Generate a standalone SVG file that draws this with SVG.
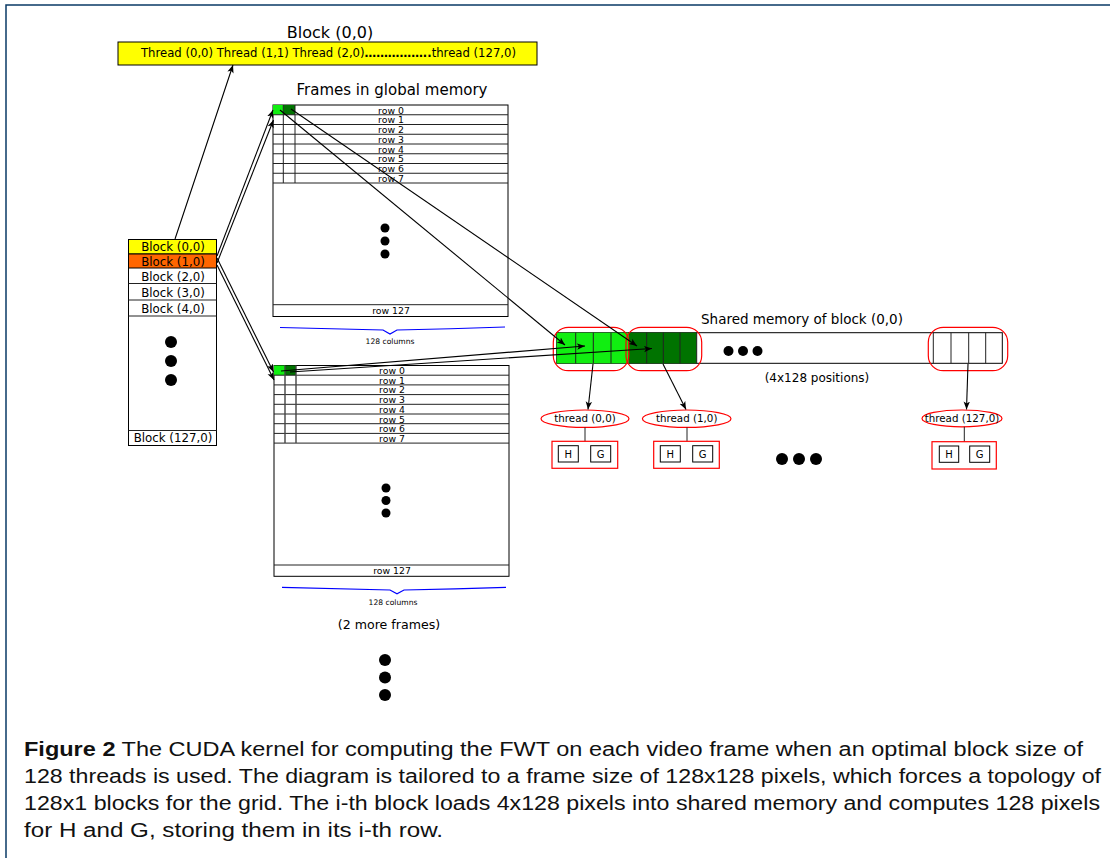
<svg xmlns="http://www.w3.org/2000/svg" width="1110" height="858" viewBox="0 0 1110 858">
<defs>
<marker id="ah" viewBox="0 0 10 10" refX="10" refY="5" markerWidth="8" markerHeight="8" markerUnits="userSpaceOnUse" orient="auto">
<path d="M0,1 L10,5 L0,9 L2.5,5 Z" fill="#000"/>
</marker>
</defs>
<style>
text{font-family:"DejaVu Sans","Liberation Sans",sans-serif;fill:#000}
.bx{fill:#fff;stroke:#000;stroke-width:1}
.ln{stroke:#222;stroke-width:1;fill:none}
.rw{font-size:9.3px;text-anchor:middle}
.bl{font-size:11.8px;text-anchor:middle}
.red{fill:none;stroke:#f00;stroke-width:1.2}
.th{font-size:10.3px;text-anchor:middle}
.hg{font-size:10px;text-anchor:middle}
.arr{stroke:#000;stroke-width:1.1;fill:none;marker-end:url(#ah)}
.brace{stroke:#00f;stroke-width:1.2;fill:none}
.cap{font-family:"Liberation Sans",Arial,sans-serif;font-size:20px;fill:#111}
.lg{fill:#11ee11}
.dg{fill:#007300}
</style>
<rect width="1110" height="858" fill="#fff"/>
<polyline points="6,858 6,5 1110,5" fill="none" stroke="#0a3a66" stroke-width="1.5"/>

<g id="block00-bar">
<text x="330" y="37.5" font-size="16" text-anchor="middle">Block (0,0)</text>
<rect x="118" y="42" width="419" height="23" fill="#ffff00" stroke="#000"/>
<text x="141" y="57" font-size="12" textLength="375" lengthAdjust="spacingAndGlyphs">Thread (0,0) Thread (1,1) Thread (2,0)<tspan font-weight="bold">……………..</tspan>thread (127,0)</text>
</g>

<g id="grid">
<rect x="128.5" y="239.5" width="88" height="206" class="bx"/>
<rect x="128.5" y="239.5" width="88" height="14.5" fill="#ffff00" stroke="#000"/>
<rect x="128.5" y="254" width="88" height="14" fill="#ff6600" stroke="#000"/>
<line x1="128.5" y1="283.5" x2="216.5" y2="283.5" class="ln"/>
<line x1="128.5" y1="300" x2="216.5" y2="300" class="ln"/>
<line x1="128.5" y1="316" x2="216.5" y2="316" class="ln"/>
<line x1="128.5" y1="430.5" x2="216.5" y2="430.5" class="ln"/>
<text x="173" y="251" class="bl">Block (0,0)</text>
<text x="173" y="265.5" class="bl">Block (1,0)</text>
<text x="173" y="280.5" class="bl">Block (2,0)</text>
<text x="173" y="296.5" class="bl">Block (3,0)</text>
<text x="173" y="312.5" class="bl">Block (4,0)</text>
<text x="173" y="442" class="bl">Block (127,0)</text>
<circle cx="171" cy="342" r="6"/>
<circle cx="171" cy="361" r="6"/>
<circle cx="171" cy="380" r="6"/>
</g>

<g id="frame1">
<text x="392" y="95" font-size="15" text-anchor="middle">Frames in global memory</text>
<rect x="273" y="105" width="235" height="211.5" class="bx"/>
<rect x="273" y="105" width="10.3" height="9.75" class="lg"/>
<rect x="283.3" y="105" width="11.7" height="9.75" class="dg"/>
<g class="ln">
<line x1="273" y1="114.75" x2="508" y2="114.75"/>
<line x1="273" y1="124.5" x2="508" y2="124.5"/>
<line x1="273" y1="134.25" x2="508" y2="134.25"/>
<line x1="273" y1="144" x2="508" y2="144"/>
<line x1="273" y1="153.75" x2="508" y2="153.75"/>
<line x1="273" y1="163.5" x2="508" y2="163.5"/>
<line x1="273" y1="173.25" x2="508" y2="173.25"/>
<line x1="273" y1="183" x2="508" y2="183"/>
<line x1="283.3" y1="105" x2="283.3" y2="183"/>
<line x1="295" y1="105" x2="295" y2="183"/>
<line x1="273" y1="304.7" x2="508" y2="304.7"/>
</g>
<text x="391" y="113.5" class="rw">row 0</text>
<text x="391" y="123.2" class="rw">row 1</text>
<text x="391" y="133" class="rw">row 2</text>
<text x="391" y="142.7" class="rw">row 3</text>
<text x="391" y="152.5" class="rw">row 4</text>
<text x="391" y="162.2" class="rw">row 5</text>
<text x="391" y="172" class="rw">row 6</text>
<text x="391" y="181.7" class="rw">row 7</text>
<text x="391" y="313.5" class="rw">row 127</text>
<circle cx="385" cy="228" r="4.5"/>
<circle cx="385" cy="241" r="4.5"/>
<circle cx="385" cy="254" r="4.5"/>
<path d="M280,327.5 Q340,329 383,330 L390,334 L397,330 Q450,329 505,327" class="brace"/>
<text x="390" y="344" font-size="7.6" text-anchor="middle">128 columns</text>
</g>

<g id="frame2">
<rect x="274" y="365.5" width="235" height="210.8" class="bx"/>
<rect x="274" y="365.5" width="11" height="9.7" class="lg"/>
<rect x="285" y="365.5" width="11" height="9.7" class="dg"/>
<g class="ln">
<line x1="274" y1="375.2" x2="509" y2="375.2"/>
<line x1="274" y1="384.9" x2="509" y2="384.9"/>
<line x1="274" y1="394.6" x2="509" y2="394.6"/>
<line x1="274" y1="404.3" x2="509" y2="404.3"/>
<line x1="274" y1="414" x2="509" y2="414"/>
<line x1="274" y1="423.7" x2="509" y2="423.7"/>
<line x1="274" y1="433.4" x2="509" y2="433.4"/>
<line x1="274" y1="443.1" x2="509" y2="443.1"/>
<line x1="285" y1="365.5" x2="285" y2="443.1" stroke="#444" stroke-width="1.4"/>
<line x1="296" y1="365.5" x2="296" y2="443.1" stroke="#444" stroke-width="1.4"/>
<line x1="274" y1="565" x2="509" y2="565"/>
</g>
<text x="392" y="374" class="rw">row 0</text>
<text x="392" y="383.7" class="rw">row 1</text>
<text x="392" y="393.4" class="rw">row 2</text>
<text x="392" y="403.1" class="rw">row 3</text>
<text x="392" y="412.8" class="rw">row 4</text>
<text x="392" y="422.5" class="rw">row 5</text>
<text x="392" y="432.2" class="rw">row 6</text>
<text x="392" y="441.9" class="rw">row 7</text>
<text x="392" y="574" class="rw">row 127</text>
<circle cx="386" cy="488" r="4.5"/>
<circle cx="386" cy="500.5" r="4.5"/>
<circle cx="386" cy="513" r="4.5"/>
<path d="M282,587.3 Q345,589 390,590 L397,593.7 L404,590 Q455,589 506,587.3" class="brace"/>
<text x="393" y="604.5" font-size="7.6" text-anchor="middle">128 columns</text>
<text x="389" y="628.5" font-size="12.6" text-anchor="middle">(2 more frames)</text>
<circle cx="385" cy="660" r="6"/>
<circle cx="385" cy="677.5" r="6"/>
<circle cx="385" cy="695" r="6"/>
</g>

<g id="shared">
<text x="701" y="323.5" font-size="13.5">Shared memory of block (0,0)</text>
<rect x="556.7" y="332.7" width="445.6" height="30.6" class="bx"/>
<rect x="556.7" y="332.7" width="71.6" height="30.6" class="lg"/>
<rect x="628.3" y="332.7" width="68.4" height="30.6" class="dg"/>
<g class="ln">
<line x1="575.7" y1="332.7" x2="575.7" y2="363.3"/>
<line x1="593.3" y1="332.7" x2="593.3" y2="363.3"/>
<line x1="611" y1="332.7" x2="611" y2="363.3"/>
<line x1="646.7" y1="332.7" x2="646.7" y2="363.3"/>
<line x1="663.3" y1="332.7" x2="663.3" y2="363.3"/>
<line x1="680" y1="332.7" x2="680" y2="363.3"/>
<line x1="696.7" y1="332.7" x2="696.7" y2="363.3"/>
<line x1="933.3" y1="332.7" x2="933.3" y2="363.3"/>
<line x1="951" y1="332.7" x2="951" y2="363.3"/>
<line x1="968.7" y1="332.7" x2="968.7" y2="363.3"/>
<line x1="985.7" y1="332.7" x2="985.7" y2="363.3"/>
</g>
<rect x="553.3" y="327.3" width="75.5" height="43.4" rx="15" class="red"/>
<rect x="626" y="327.3" width="75.7" height="43.4" rx="15" class="red"/>
<rect x="928.3" y="327.3" width="79.4" height="43.4" rx="15" class="red"/>
<circle cx="728.5" cy="351" r="5"/>
<circle cx="743" cy="351" r="5"/>
<circle cx="757.5" cy="351" r="5"/>
<text x="817" y="381.5" font-size="12" text-anchor="middle">(4x128 positions)</text>
</g>

<g id="thread0">
<ellipse cx="585" cy="418.7" rx="44" ry="8.7" class="red"/>
<text x="585" y="422.3" class="th">thread (0,0)</text>
<line x1="585" y1="427.4" x2="585" y2="441.3" class="ln"/>
<rect x="552" y="441.3" width="65.7" height="27" class="red"/>
<rect x="558.3" y="445.7" width="20" height="16.3" class="bx"/>
<rect x="590.7" y="445.7" width="20" height="16.3" class="bx"/>
<text x="568.3" y="457.5" class="hg">H</text>
<text x="600.7" y="457.5" class="hg">G</text>
</g>

<g id="thread1">
<ellipse cx="686.7" cy="418.7" rx="44.3" ry="8.7" class="red"/>
<text x="686.7" y="422.3" class="th">thread (1,0)</text>
<line x1="687" y1="427.4" x2="687" y2="441.3" class="ln"/>
<rect x="653.7" y="441.3" width="65.6" height="27" class="red"/>
<rect x="660.3" y="445.7" width="20" height="16.3" class="bx"/>
<rect x="692.7" y="445.7" width="20" height="16.3" class="bx"/>
<text x="670.3" y="457.5" class="hg">H</text>
<text x="702.7" y="457.5" class="hg">G</text>
</g>

<g id="threadsdots">
<circle cx="782" cy="459" r="6"/>
<circle cx="799" cy="459" r="6"/>
<circle cx="816" cy="459" r="6"/>
</g>

<g id="thread127">
<ellipse cx="962" cy="418.4" rx="40" ry="8.4" class="red"/>
<text x="962" y="422" class="th" font-size="9.6">thread (127,0)</text>
<line x1="964.3" y1="426.8" x2="964.3" y2="441.7" class="ln"/>
<rect x="932" y="441.7" width="64.3" height="27.3" class="red"/>
<rect x="939.3" y="446" width="19.4" height="16.3" class="bx"/>
<rect x="969.7" y="446" width="20" height="16.3" class="bx"/>
<text x="949" y="457.8" class="hg">H</text>
<text x="979.7" y="457.8" class="hg">G</text>
</g>

<g id="connectors">
<line x1="175" y1="239" x2="233" y2="65" class="arr"/>
<line x1="217" y1="256" x2="273" y2="110" class="arr"/>
<line x1="217" y1="263" x2="273.5" y2="120" class="arr"/>
<line x1="217" y1="258" x2="273.5" y2="372" class="arr"/>
<line x1="217" y1="265" x2="274" y2="380" class="arr"/>
<line x1="280" y1="110" x2="565" y2="345" class="arr"/>
<line x1="291" y1="109" x2="637" y2="346" class="arr"/>
<line x1="281" y1="371" x2="585" y2="346" class="arr"/>
<line x1="290" y1="372" x2="652" y2="348.5" class="arr"/>
<line x1="593" y1="364" x2="588" y2="409.5" class="arr"/>
<line x1="663" y1="364" x2="686" y2="409.5" class="arr"/>
<line x1="968" y1="364" x2="966.5" y2="409.5" class="arr"/>
</g>

<g id="caption">
<text x="24" y="756" class="cap" textLength="1059" lengthAdjust="spacingAndGlyphs"><tspan font-weight="bold">Figure 2</tspan> The CUDA kernel for computing the FWT on each video frame when an optimal block size of</text>
<text x="24" y="783" class="cap" textLength="1077" lengthAdjust="spacingAndGlyphs">128 threads is used. The diagram is tailored to a frame size of 128x128 pixels, which forces a topology of</text>
<text x="24" y="810" class="cap" textLength="1076" lengthAdjust="spacingAndGlyphs">128x1 blocks for the grid. The i-th block loads 4x128 pixels into shared memory and computes 128 pixels</text>
<text x="24" y="837" class="cap" textLength="419" lengthAdjust="spacingAndGlyphs">for H and G, storing them in its i-th row.</text>
</g>
</svg>
